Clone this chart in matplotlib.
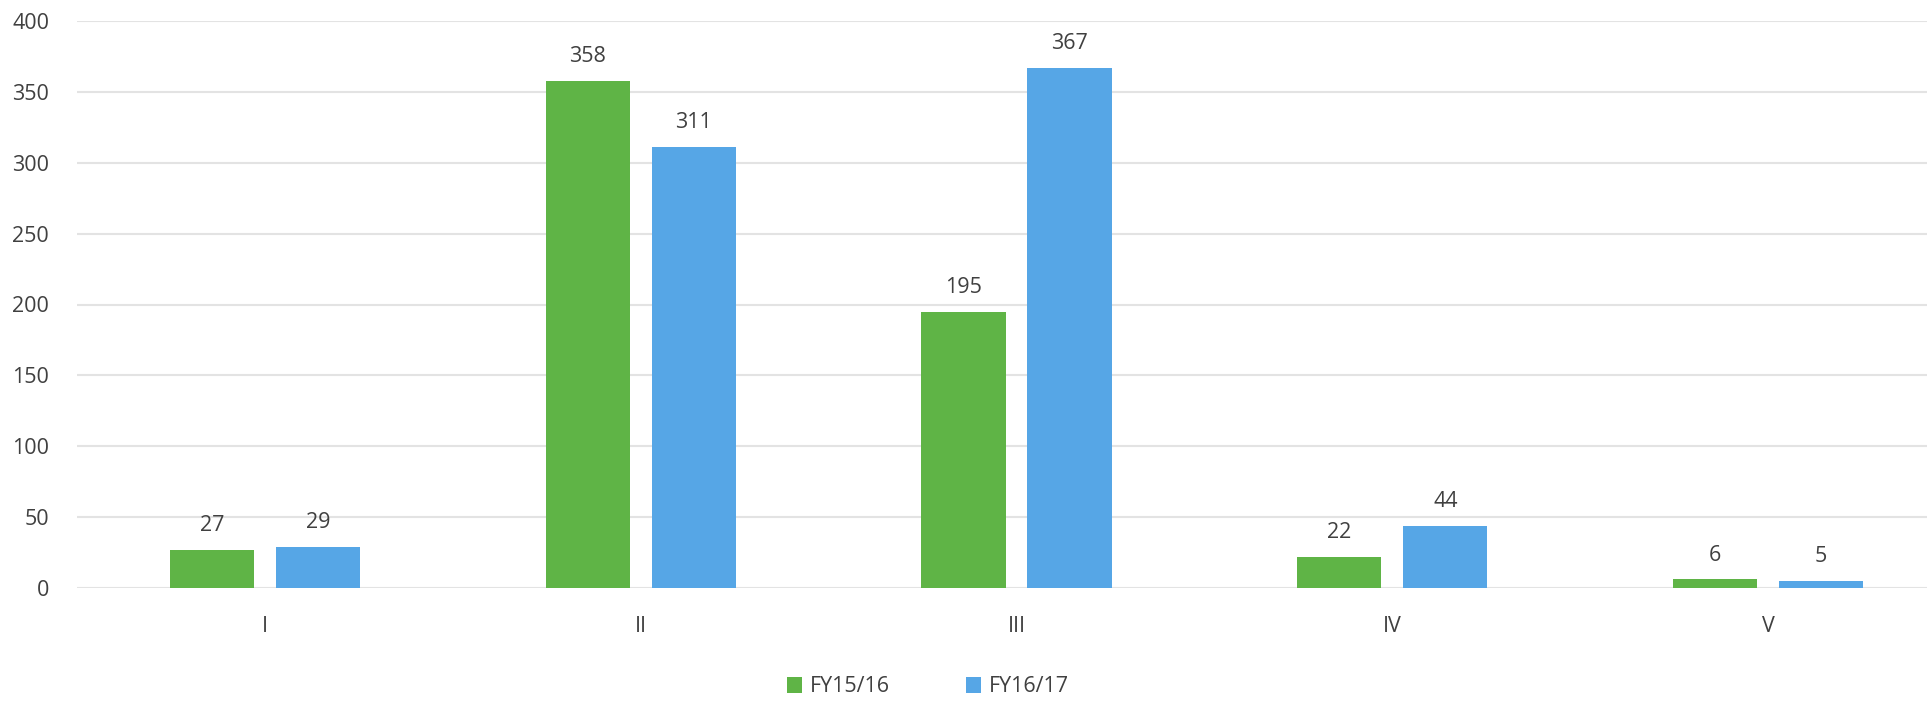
import matplotlib
matplotlib.use("Agg")
import matplotlib.pyplot as plt
import numpy as np

# data
categories = ["I", "II", "III", "IV", "V"]
fy1516 = [27, 358, 195, 22, 6]
fy1617 = [29, 311, 367, 44, 5]
series_names = ["FY15/16", "FY16/17"]
yticks = [0, 50, 100, 150, 200, 250, 300, 350, 400]

GREEN = "#5fb446"
BLUE = "#56a6e6"
TEXT = "#404040"

plt.rcParams["font.family"] = ["Open Sans", "DejaVu Sans"]

fig = plt.figure(figsize=(19.27, 7.01), dpi=100)
ax = fig.add_axes([77 / 1927, 113 / 701, 1879 / 1927, 567 / 701])

x = np.arange(len(categories))
w = 0.224
off = 0.141
b1 = ax.bar(x - off, fy1516, width=w, color=GREEN, label=series_names[0], zorder=3)
b2 = ax.bar(x + off, fy1617, width=w, color=BLUE, label=series_names[1], zorder=3)

for bars in (b1, b2):
    ax.bar_label(bars, padding=10, fontsize=15.5, color=TEXT)

ax.set_xlim(-0.5, len(categories) - 0.5)
ax.set_ylim(0, 400)
ax.set_yticks(yticks)
ax.set_xticks(x)
ax.set_xticklabels(categories)
ax.tick_params(axis="both", length=0, labelsize=15.5, labelcolor=TEXT)
ax.tick_params(axis="y", pad=20)
ax.tick_params(axis="x", pad=20)

ax.grid(axis="y", color="#e3e3e3", linewidth=1.5, zorder=0)
for s in ax.spines.values():
    s.set_visible(False)

fig.legend(loc="center", bbox_to_anchor=(928 / 1927, 1 - 687 / 701), ncol=2,
           frameon=False, fontsize=15.5, handlelength=0.7, handleheight=0.7,
           handletextpad=0.4, columnspacing=3.5, labelcolor=TEXT)

fig.savefig("out.png", dpi=100)
